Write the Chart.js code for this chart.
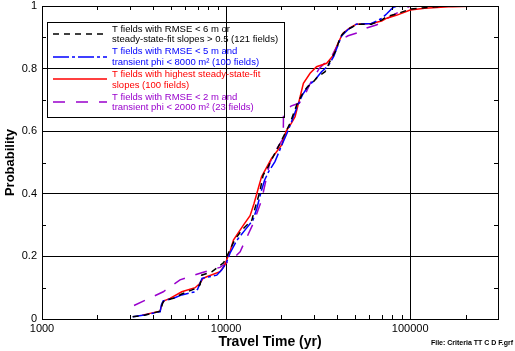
<!DOCTYPE html>
<html>
<head>
<meta charset="utf-8">
<script src="https://cdn.jsdelivr.net/npm/chart.js@4.4.1/dist/chart.umd.min.js"></script>
<style>
    html, body { margin: 0; padding: 0; background: #fff; }
    #wrap { position: relative; width: 515px; height: 351px; }
</style>
</head>
<body>
<div id="wrap"><canvas id="chart" width="515" height="351"></canvas></div>
<script>
    // Axis ticks
    const X_LABELS = [1000, 10000, 100000];
    const Y_LABELS = [0, 0.2, 0.4, 0.6, 0.8, 1];

    // T fields with RMSE < 6 m or steady-state-fit slopes > 0.5 (121 fields)
    const rmse6Time = [3110, 3600, 4380, 4520, 4600, 5170, 5745, 6790, 7220, 7370, 8360, 9080, 9700, 10090,
        11120, 12180, 13800, 14360, 15260, 15900, 16940, 18430, 19630, 20900, 22240, 24200, 25800, 27500,
        30000, 31500, 34500, 36600, 39900, 41500, 45000, 49000, 51000, 61600, 70000, 74600, 84800, 100000,
        140000, 170000];
    const rmse6Prob = [0.007, 0.012, 0.025, 0.05, 0.058, 0.066, 0.08, 0.097, 0.109, 0.14, 0.151, 0.167, 0.18, 0.2,
        0.252, 0.284, 0.316, 0.354, 0.407, 0.46, 0.487, 0.53, 0.561, 0.593, 0.625, 0.684, 0.716, 0.74,
        0.76, 0.774, 0.79, 0.822, 0.862, 0.9, 0.923, 0.934, 0.942, 0.942, 0.955, 0.966, 0.975, 0.99,
        0.998, 1.0];

    // T fields with RMSE < 5 m and transient phi < 8000 m² (100 fields)
    const rmse5Time = [3110, 3600, 4380, 4450, 4550, 5170, 5745, 6790, 7000, 7220, 7400, 8900, 9480, 10090,
        10500, 11400, 12500, 14000, 14700, 15500, 16200, 17000, 18430, 19900, 21300, 22500, 24400, 26000,
        28000, 30500, 33000, 36000, 38500, 40500, 42500, 46000, 51000, 61600, 70000, 74600, 80000, 82800,
        100000];
    const rmse5Prob = [0.007, 0.013, 0.023, 0.045, 0.058, 0.066, 0.077, 0.087, 0.095, 0.114, 0.13, 0.14, 0.157, 0.183,
        0.21, 0.25, 0.28, 0.316, 0.354, 0.407, 0.444, 0.47, 0.503, 0.55, 0.59, 0.625, 0.68, 0.716,
        0.745, 0.765, 0.79, 0.81, 0.84, 0.875, 0.905, 0.925, 0.942, 0.944, 0.96, 0.975, 0.993, 0.998,
        1.0];

    // T fields with highest steady-state-fit slopes (100 fields)
    const slopeTime = [3500, 3863, 4380, 4500, 4600, 4960, 5745, 6790, 7220, 7500, 7850, 9270, 9800, 10090,
        10500, 10960, 12420, 13500, 14200, 15000, 15600, 17650, 20050, 21200, 22600, 23700, 25000, 26300,
        28600, 31000, 35200, 38300, 40500, 43000, 47000, 51000, 61600, 70000, 74600, 84800, 100000, 120000,
        170000, 240000];
    const slopeProb = [0.012, 0.018, 0.025, 0.05, 0.058, 0.066, 0.087, 0.1, 0.114, 0.13, 0.135, 0.151, 0.17, 0.19,
        0.215, 0.252, 0.3, 0.33, 0.37, 0.42, 0.455, 0.513, 0.556, 0.6, 0.625, 0.646, 0.7, 0.753,
        0.785, 0.806, 0.817, 0.843, 0.88, 0.912, 0.93, 0.942, 0.944, 0.952, 0.961, 0.971, 0.987, 0.993,
        0.998, 1.0];

    // T fields with RMSE < 2 m and transient phi < 2000 m² (23 fields)
    const rmse2Time = [3162, 4560, 5620, 7370, 9270, 10960, 11920, 12700, 14060, 15600, 16000, 17240, 18430,
        20440, 20500, 22500, 25000, 27000, 28500, 32000, 37500, 41500, 46000, 52000, 58000, 66000, 80000,
        100000];
    const rmse2Prob = [0.043, 0.087, 0.125, 0.148, 0.165, 0.194, 0.215, 0.25, 0.306, 0.38, 0.41, 0.497, 0.534,
        0.577, 0.65, 0.68, 0.69, 0.72, 0.75, 0.8, 0.84, 0.89, 0.905, 0.915, 0.93, 0.94, 0.97,
        1.0];

    const FONT = "'Liberation Sans', Arial, sans-serif";

    const SERIES = [
        { lines: ['T fields with RMSE < 6 m or', 'steady-state-fit slopes > 0.5 (121 fields)'],
          time: rmse6Time, prob: rmse6Prob, color: '#000000', dash: [6, 5] },
        { lines: ['T fields with RMSE < 5 m and', 'transient phi < 8000 m² (100 fields)'],
          time: rmse5Time, prob: rmse5Prob, color: '#0000ff', dash: [16, 3, 3, 3] },
        { lines: ['T fields with highest steady-state-fit', 'slopes (100 fields)'],
          time: slopeTime, prob: slopeProb, color: '#ff0000', dash: [] },
        { lines: ['T fields with RMSE < 2 m and', 'transient phi < 2000 m² (23 fields)'],
          time: rmse2Time, prob: rmse2Prob, color: '#9900cc', dash: [12, 11] }
    ];

    function toPoints(time, prob) {
        return time.map((t, i) => ({ x: t, y: prob[i] }));
    }

    function crisp(v) {
        return Math.round(v) + 0.5;
    }

    // Frame, inward minor ticks, boxed legend and file note
    const decorations = {
        id: 'decorations',
        afterDatasetsDraw(chart) {
            const ctx = chart.ctx;
            const a = chart.chartArea;
            const xs = chart.scales.x;
            const ys = chart.scales.y;
            ctx.save();
            ctx.strokeStyle = '#000';
            ctx.lineWidth = 1;
            ctx.setLineDash([]);

            // top and right border
            ctx.beginPath();
            ctx.moveTo(crisp(a.left), crisp(a.top));
            ctx.lineTo(crisp(a.right), crisp(a.top));
            ctx.lineTo(crisp(a.right), crisp(a.bottom));
            ctx.stroke();

            // minor x ticks
            ctx.beginPath();
            X_LABELS.forEach(d => {
                for (let m = 2; m <= 9; m++) {
                    const v = d * m;
                    if (v > xs.max) break;
                    const px = crisp(xs.getPixelForValue(v));
                    ctx.moveTo(px, a.bottom);
                    ctx.lineTo(px, a.bottom - 4);
                    ctx.moveTo(px, a.top);
                    ctx.lineTo(px, a.top + 4);
                }
            });
            // minor y ticks
            [0.1, 0.3, 0.5, 0.7, 0.9].forEach(v => {
                const py = crisp(ys.getPixelForValue(v));
                ctx.moveTo(a.left, py);
                ctx.lineTo(a.left + 4, py);
                ctx.moveTo(a.right, py);
                ctx.lineTo(a.right - 4, py);
            });
            ctx.stroke();

            // legend box
            const box = { left: 47, top: 22, right: 284, bottom: 117 };
            ctx.strokeRect(box.left + 0.5, box.top + 0.5, box.right - box.left, box.bottom - box.top);
            ctx.font = '9.5px ' + FONT;
            ctx.textBaseline = 'middle';
            ctx.textAlign = 'left';
            SERIES.forEach((s, i) => {
                const cy = 34 + i * 22.7;
                ctx.strokeStyle = s.color;
                ctx.lineWidth = 1.5;
                ctx.setLineDash(s.dash);
                ctx.beginPath();
                ctx.moveTo(53, Math.round(cy));
                ctx.lineTo(107, Math.round(cy));
                ctx.stroke();
                ctx.fillStyle = s.color;
                ctx.fillText(s.lines[0], 112, cy - 5);
                ctx.fillText(s.lines[1], 112, cy + 5.5);
            });

            // file note
            ctx.fillStyle = '#000';
            ctx.font = 'bold 7px ' + FONT;
            ctx.textAlign = 'right';
            ctx.fillText('File: Criteria TT C D F.grf', 513, 343);
            ctx.restore();
        }
    };

    const datasets = SERIES.map(s => ({
        label: s.lines.join(' '),
        data: toPoints(s.time, s.prob),
        borderColor: s.color,
        borderWidth: 1.5,
        borderDash: s.dash,
        pointRadius: 0,
        fill: false,
        tension: 0
    }));

    new Chart(document.getElementById('chart').getContext('2d'), {
        type: 'line',
        data: { datasets: datasets },
        options: {
            responsive: false,
            animation: false,
            layout: { padding: { left: 0, top: 6, right: 17, bottom: 0 } },
            plugins: {
                legend: { display: false },
                tooltip: { enabled: false }
            },
            scales: {
                x: {
                    type: 'logarithmic',
                    min: 1000,
                    max: 300000,
                    afterBuildTicks: scale => { scale.ticks = X_LABELS.map(v => ({ value: v })); },
                    afterFit: scale => {
                        scale.height = 32;
                        scale.paddingLeft = 0;
                        scale.paddingRight = 0;
                    },
                    ticks: {
                        autoSkip: false,
                        maxRotation: 0,
                        padding: 3,
                        color: '#000',
                        font: { family: FONT, size: 11 },
                        callback: v => String(v)
                    },
                    grid: { color: '#000', lineWidth: 1, drawTicks: false },
                    border: { display: true, color: '#000', width: 1 },
                    title: {
                        display: true,
                        text: 'Travel Time (yr)',
                        color: '#000',
                        font: { family: FONT, size: 14, weight: 'bold' },
                        padding: { top: 0, bottom: 0 }
                    }
                },
                y: {
                    type: 'linear',
                    min: 0,
                    max: 1,
                    afterBuildTicks: scale => { scale.ticks = Y_LABELS.map(v => ({ value: v })); },
                    afterFit: scale => {
                        scale.width = 42;
                        scale.paddingTop = 0;
                        scale.paddingBottom = 0;
                    },
                    ticks: {
                        padding: 5,
                        color: '#000',
                        font: { family: FONT, size: 11 },
                        callback: v => String(v)
                    },
                    grid: { color: '#000', lineWidth: 1, drawTicks: false },
                    border: { display: true, color: '#000', width: 1 },
                    title: {
                        display: true,
                        text: 'Probability',
                        color: '#000',
                        font: { family: FONT, size: 13, weight: 'bold' },
                        padding: { top: 3, bottom: 0 }
                    }
                }
            }
        },
        plugins: [decorations]
    });
</script>
</body>
</html>
